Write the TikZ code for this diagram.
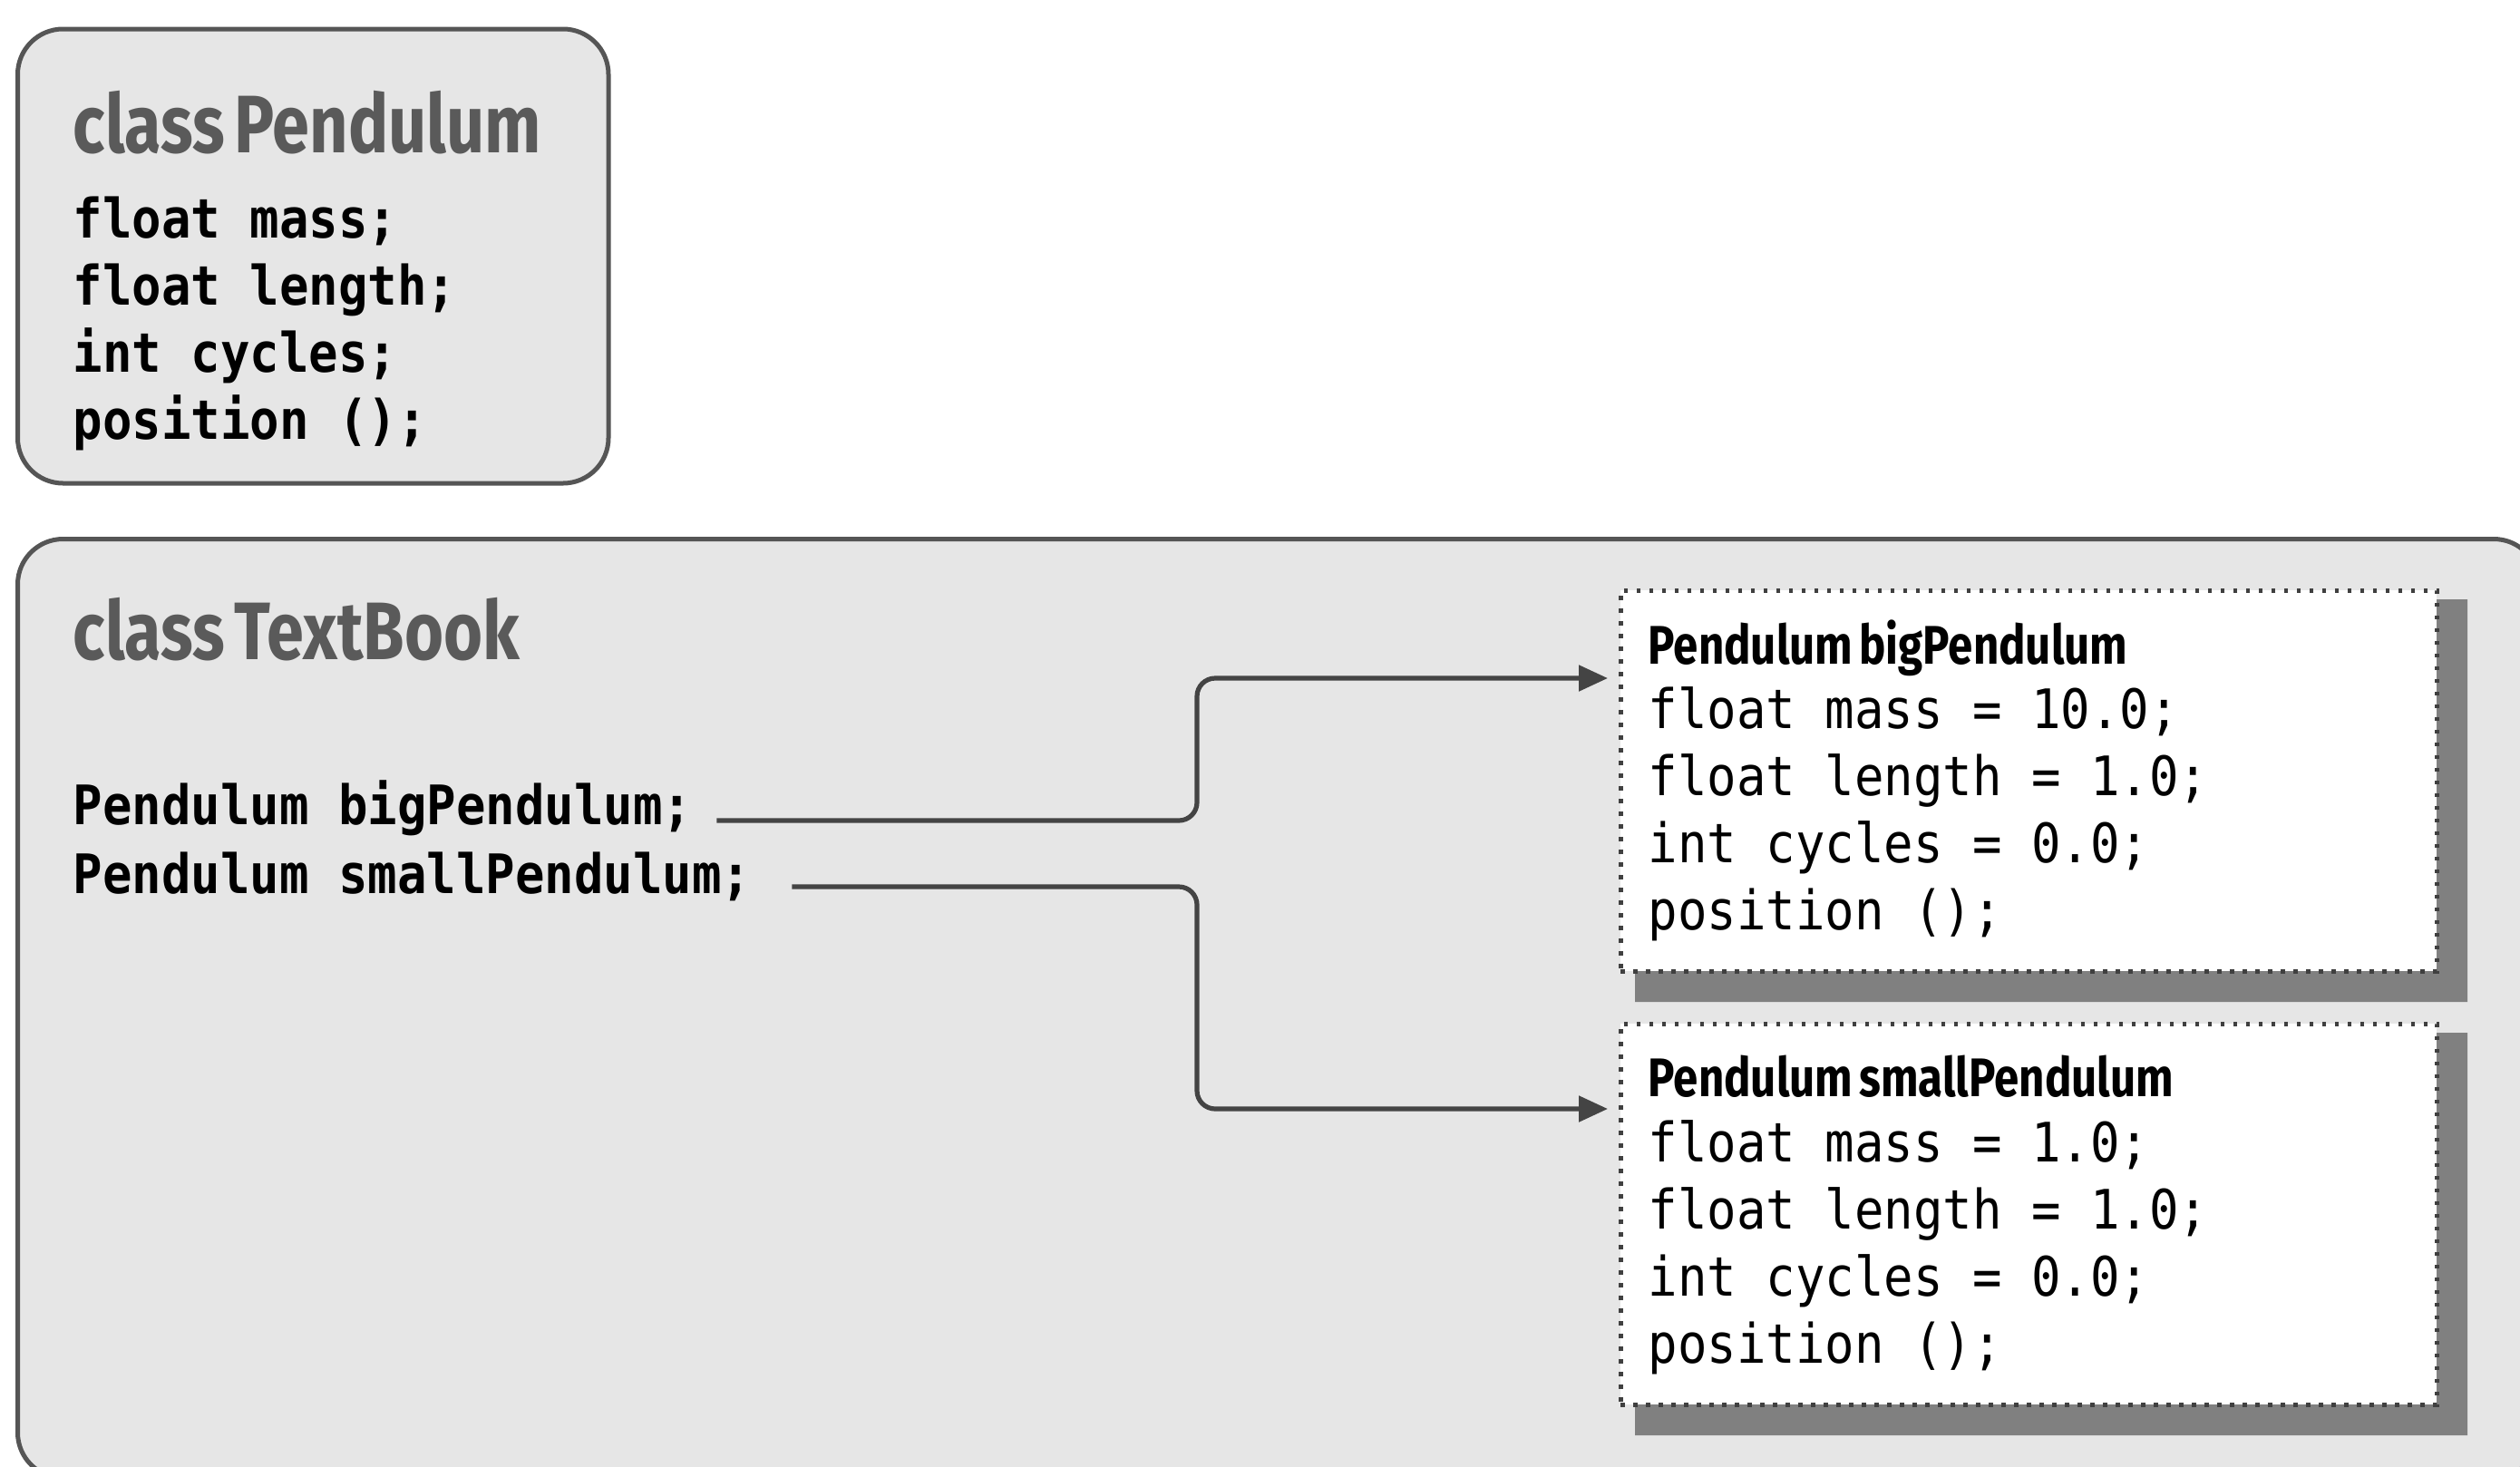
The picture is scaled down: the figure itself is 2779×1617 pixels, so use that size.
\documentclass[tikz,border=0pt]{standalone}
\usepackage{fontspec}
\setmainfont{Fira Sans}
\newfontfamily\monofont[FakeStretch=0.9]{DejaVu Sans Mono}
\newfontfamily\condfont[FakeStretch=0.82,WordSpace=0.6]{Fira Sans}
\usetikzlibrary{arrows.meta,calc}
\definecolor{boxfill}{HTML}{E6E6E6}
\definecolor{boxline}{HTML}{555555}
\definecolor{titlegray}{HTML}{5A5A5A}
\definecolor{dotline}{HTML}{404040}
\definecolor{conncol}{HTML}{444444}
\definecolor{shA}{HTML}{DADADA}
\definecolor{shB}{HTML}{C8C8C8}
\definecolor{shC}{HTML}{B0B0B0}
\definecolor{shD}{HTML}{989898}
\definecolor{shE}{HTML}{808080}
\tikzset{
  classbox/.style={draw=boxline, line width=1.25pt, fill=boxfill, rounded corners=12.5pt},
  classtitle/.style={anchor=base west, inner sep=0pt, text=titlegray, font=\condfont\bfseries\fontsize{22.5}{27}\selectfont},
  codebold/.style={anchor=base west, inner sep=0pt, text=black, font=\monofont\bfseries\fontsize{15}{18.5}\selectfont},
  coderegular/.style={anchor=base west, inner sep=0pt, text=black, font=\monofont\fontsize{15}{18.5}\selectfont},
  objtitle/.style={anchor=base west, inner sep=0pt, text=black, font=\condfont\bfseries\fontsize{15}{18}\selectfont},
  objbox/.style={draw=dotline, line width=1.2pt, dash pattern=on 1.2pt off 2.3pt, fill=white,
    anchor=north west, minimum width=225pt, minimum height=105pt, inner sep=0pt},
  conn/.style={draw=conncol, line width=1.3pt, rounded corners=5pt, -{Triangle[length=8pt,width=7pt]}, shorten >=3pt}
}
\begin{document}
\begin{tikzpicture}[x=0.25pt,y=-0.25pt]
\useasboundingbox (0,0) rectangle (2779,1617);
\begin{scope}
  \clip (0,0) rectangle (2779,1617);
  \path[classbox] (19.5,32) rectangle (671,533);
  \path[classbox] (19.5,594.5) rectangle (2800,1630);
\end{scope}

% class Pendulum
\node[classtitle] (pendtitle) at (80,168) {class Pendulum};
\foreach \t [count=\i] in {float mass;, float length;, int cycles;, position ();}
  \node[codebold] (pc\i) at (80,{262+74*(\i-1)}) {\t};

% class TextBook
\node[classtitle] (tbtitle) at (80,727) {class TextBook};
\node[codebold] (bigvar) at (80,909) {Pendulum bigPendulum;};
\node[codebold] (smallvar) at (80,985) {Pendulum smallPendulum;};

% shadows
\foreach \nw/\se in {{1785,649}/{2685,1069}, {1785,1127}/{2685,1547}} {
  \path let \p1=(\nw), \p2=(\se) in
    [fill=shA] ($(\p1)+(18,12)$) rectangle ($(\p2)+(36,36)$)
    [fill=shB] ($(\p1)+(21,14)$) rectangle ($(\p2)+(31,31)$)
    [fill=shC] ($(\p1)+(24,16)$) rectangle ($(\p2)+(26,26)$)
    [fill=shD] ($(\p1)+(27,18)$) rectangle ($(\p2)+(21,21)$)
    [fill=shE] ($(\p1)+(30,20)$) rectangle ($(\p2)+(16,16)$);
}

% object boxes
\node[objbox] (bigobj) at (1785,649) {};
\node[objbox] (smallobj) at (1785,1127) {};

\node[objtitle] (bigtitle) at (1817,732) {Pendulum bigPendulum};
\foreach \t [count=\i] in {float mass = 10.0;, float length = 1.0;, int cycles = 0.0;, position ();}
  \node[coderegular] (bc\i) at (1817,{803+74*(\i-1)}) {\t};

\node[objtitle] (smalltitle) at (1817,1209) {Pendulum smallPendulum};
\foreach \t [count=\i] in {float mass = 1.0;, float length = 1.0;, int cycles = 0.0;, position ();}
  \node[coderegular] (sc\i) at (1817,{1281+74*(\i-1)}) {\t};

% connectors
\coordinate (jog) at (1320,0);
\coordinate (a1) at ($(bigvar.base east)+(26,-4)$);
\coordinate (t1) at ($(bigobj.north west)+(0,99)$);
\coordinate (a2) at ($(smallvar.base east)+(44,-7)$);
\coordinate (t2) at ($(smallobj.north west)+(0,96)$);
\draw[conn] (a1) -| (jog |- t1) -- (t1);
\draw[conn] (a2) -| (jog |- t2) -- (t2);
\end{tikzpicture}
\end{document}
